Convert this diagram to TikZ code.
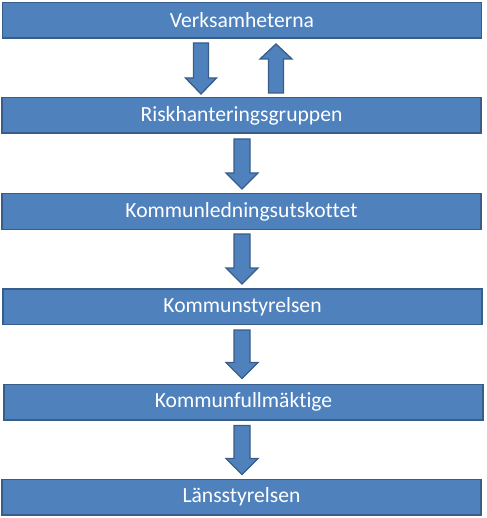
\documentclass[tikz,border=0pt]{standalone}
\usepackage{fontspec}
\setmainfont{Carlito}[Ligatures=CommonOff]
\usetikzlibrary{calc}
\definecolor{boxfill}{HTML}{4F81BD}
\definecolor{boxline}{HTML}{385D8A}
\newcommand\blkdown[4]{% top, tip, shaft half width, head half width
  \draw[blockarr] let \p1=(#1), \p2=(#2) in
    (\x2-#3pt,\y1) -- (\x2+#3pt,\y1) -- (\x2+#3pt,\y2+16pt) -- (\x2+#4pt,\y2+16pt)
    -- (\x2,\y2) -- (\x2-#4pt,\y2+16pt) -- (\x2-#3pt,\y2+16pt) -- cycle;}
\newcommand\blkup[4]{% tip, bottom, shaft half width, head half width
  \draw[blockarr] let \p1=(#1), \p2=(#2) in
    (\x1,\y1) -- (\x1+#4pt,\y1-15pt) -- (\x1+#3pt,\y1-15pt) -- (\x1+#3pt,\y2)
    -- (\x1-#3pt,\y2) -- (\x1-#3pt,\y1-15pt) -- (\x1-#4pt,\y1-15pt) -- cycle;}
\begin{document}
\begin{tikzpicture}[x=1pt,y=-1pt,
  box/.style={draw=boxline, fill=boxfill, line width=1.5pt, minimum width=479pt,
    minimum height=35.5pt, inner sep=0pt, text=white,
    font=\fontsize{21.6}{26}\selectfont},
  blockarr/.style={draw=boxline, fill=boxfill, line width=1.3pt, line join=miter}]
\useasboundingbox (0,0) rectangle (486,518);
\node[box] (b1) at (242,20.5) {Verksamheterna};
\node[box] (b2) at (241.5,115.5) {Riskhanteringsgruppen};
\node[box] (b3) at (241.5,211.5) {Kommunledningsutskottet};
\node[box] (b4) at (242.5,306.5) {Kommunstyrelsen};
\node[box] (b5) at (243.5,402) {Kommunfullmäktige};
\node[box] (b6) at (241.5,497) {Länsstyrelsen};
% arrow end points
\coordinate (a1t) at ($(b1.south)+(-41,4)$);
\coordinate (a1e) at ($(b2.north)+(-40.5,-3)$);
\coordinate (a2t) at ($(b1.south)+(34,5)$);
\coordinate (a2e) at ($(b2.north)+(34.5,-4)$);
\coordinate (a3t) at ($(b2.south)+(0.5,5)$);
\coordinate (a3e) at ($(b3.north)+(0.5,-4)$);
\coordinate (a4t) at ($(b3.south)+(0.5,4)$);
\coordinate (a4e) at ($(b4.north)+(-0.5,-4)$);
\coordinate (a5t) at ($(b4.south)+(-0.5,5)$);
\coordinate (a5e) at ($(b5.north)+(-1.5,-5)$);
\coordinate (a6t) at ($(b5.south)+(-1.5,5)$);
\coordinate (a6e) at ($(b6.north)+(0.5,-4)$);
\blkdown{a1t}{a1e}{7.5}{15.5}
\blkup{a2t}{a2e}{7.5}{16}
\blkdown{a3t}{a3e}{8}{16}
\blkdown{a4t}{a4e}{8}{16}
\blkdown{a5t}{a5e}{8}{16}
\blkdown{a6t}{a6e}{8}{16}
\end{tikzpicture}
\end{document}
